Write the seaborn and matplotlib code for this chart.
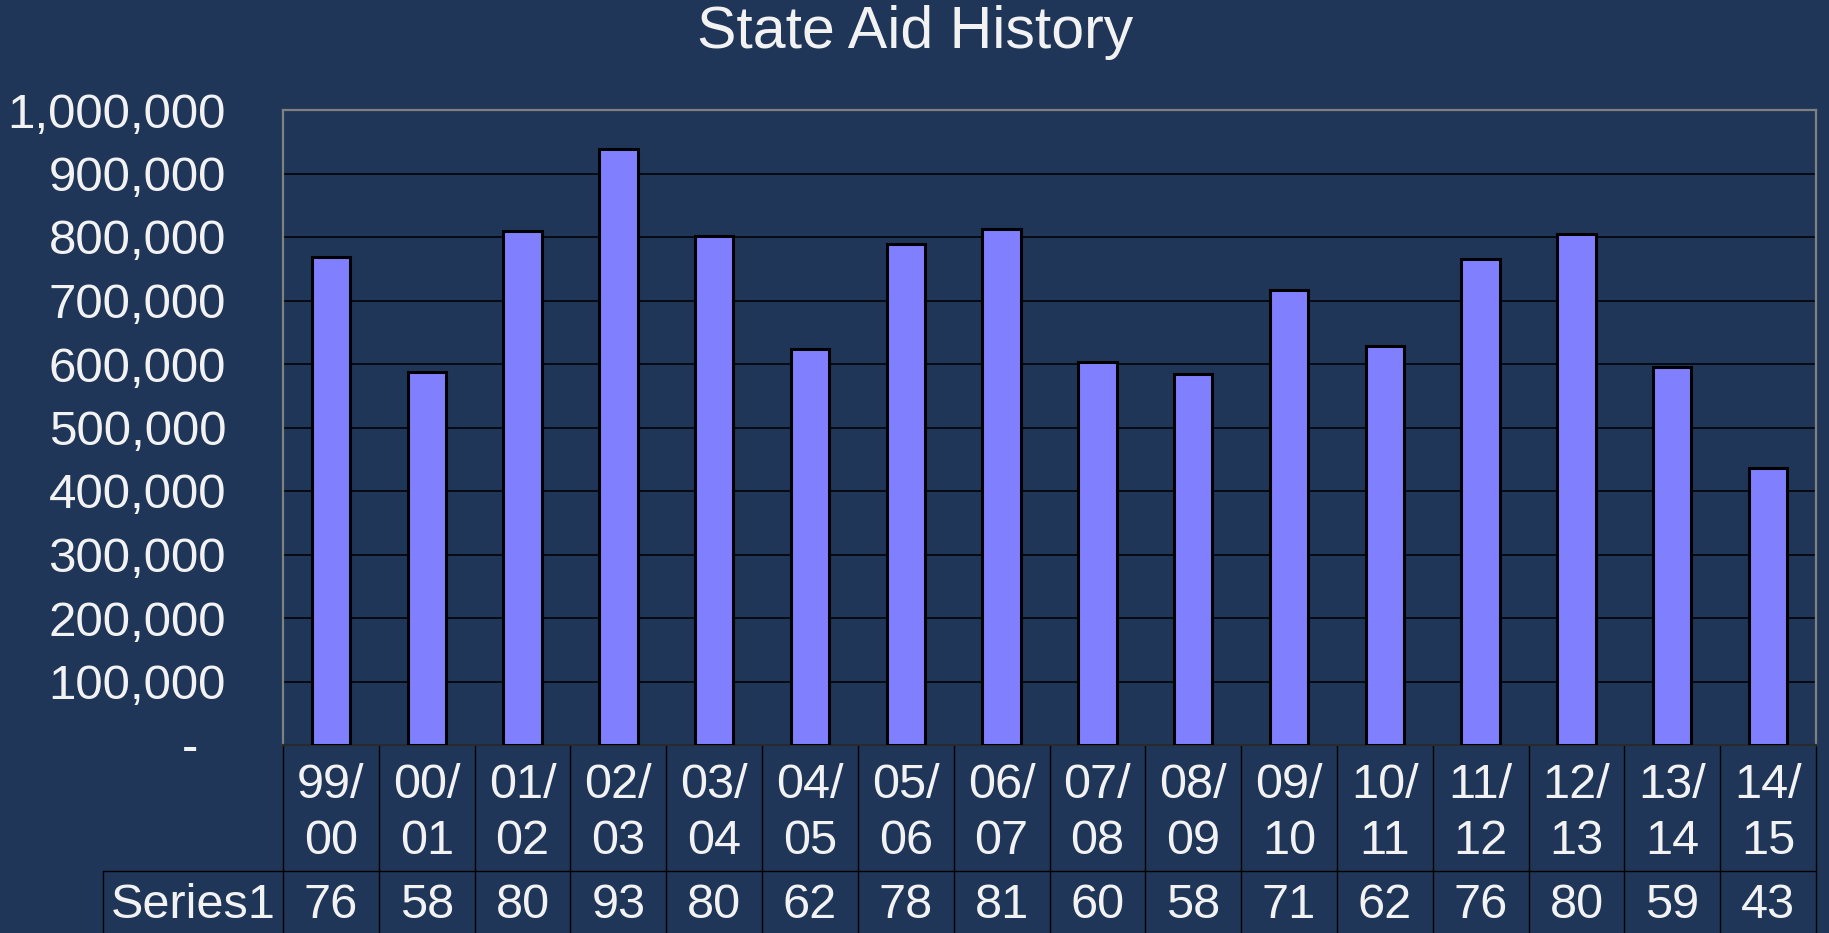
import numpy as np
import pandas as pd
import matplotlib
matplotlib.use("Agg")
import matplotlib.pyplot as plt
import matplotlib.transforms as mtrans
import seaborn as sns

# data
years = ["99/00", "00/01", "01/02", "02/03", "03/04", "04/05", "05/06", "06/07",
         "07/08", "08/09", "09/10", "10/11", "11/12", "12/13", "13/14", "14/15"]
aid = [768000, 587000, 809000, 938000, 801000, 623000, 789000, 813000,
       603000, 585000, 716000, 628000, 766000, 804000, 595000, 437000]
series_name = "Series1"
yticks = [0, 100000, 200000, 300000, 400000, 500000, 600000, 700000, 800000, 900000, 1000000]

bg = "#1F3659"
txt = "#F2F2F2"
bar_color = "#8080FF"

sns.set_style("white")
plt.rcParams["font.family"] = ["Liberation Sans", "DejaVu Sans"]

df = pd.DataFrame({"year": years, "aid": aid})

fig = plt.figure(figsize=(18.29, 9.33), dpi=100, facecolor=bg)
W, H = 1829, 933
x0, x1, ytop, ybot = 283, 1816, 110, 745
ax = fig.add_axes([x0 / W, (H - ybot) / H, (x1 - x0) / W, (ybot - ytop) / H])
ax.set_facecolor(bg)

sns.barplot(data=df, x="year", y="aid", color=bar_color, saturation=1,
            edgecolor="black", linewidth=2.2, width=0.4, ax=ax, zorder=3)

ax.set_xlim(-0.5, len(years) - 0.5)
ax.set_ylim(0, 1000000)
ax.set_yticks(yticks)
ax.set_yticklabels([f"{v:,}" if v else "-  " for v in yticks])
ax.yaxis.grid(True, color="black", linewidth=1.1, zorder=0)
ax.set_axisbelow(True)
ax.tick_params(axis="y", length=11, width=1.1, color="black", pad=30,
               labelsize=35.5, labelcolor=txt)
ax.tick_params(axis="x", bottom=False, labelbottom=False)
ax.set_xlabel("")
ax.set_ylabel("")
for s in ["top", "right", "left"]:
    ax.spines[s].set_color("#808080")
    ax.spines[s].set_linewidth(1.6)
ax.spines["bottom"].set_color("#2A2A2A")
ax.spines["bottom"].set_linewidth(1.6)

fig.text(915 / W, 1 - 33 / H, "State Aid History", color=txt, fontsize=42.5,
         ha="center", va="center")

# data table under the axis
h = ybot - ytop
def fy(py):
    return -(py - ybot) / h

blend = mtrans.blended_transform_factory(ax.transData, ax.transAxes)
row_split = fy(871)
bottom = fy(960)
labx = (103 - x0) / (x1 - x0)

line_kw = dict(color="black", linewidth=1, clip_on=False)
for i in range(len(years) + 1):
    ax.plot([i - 0.5, i - 0.5], [0, bottom], transform=blend, **line_kw)
ax.plot([labx, 1], [row_split, row_split], transform=ax.transAxes, **line_kw)
ax.plot([labx, labx], [row_split, bottom], transform=ax.transAxes, **line_kw)

for i, yr in enumerate(years):
    top, low = yr.split("/")
    ax.text(i, fy(786), top + "/", transform=blend, ha="center", va="center",
            fontsize=35, color=txt, clip_on=False)
    ax.text(i, fy(841), low, transform=blend, ha="center", va="center",
            fontsize=35, color=txt, clip_on=False)
    # the narrow cells clip the numbers to their first two digits
    ax.text(i, fy(906), f"{aid[i]:,}"[:2], transform=blend, ha="center",
            va="center", fontsize=35, color=txt, clip_on=False)

ax.text(labx / 2, fy(906), series_name, transform=ax.transAxes,
        ha="center", va="center", fontsize=35, color=txt, clip_on=False)

fig.savefig("out.png", dpi=100, facecolor=bg)
